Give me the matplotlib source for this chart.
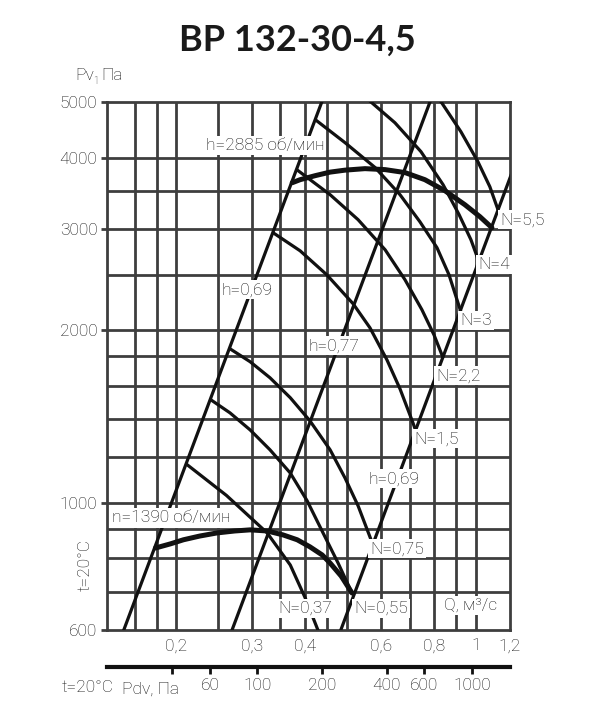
import numpy as np
import matplotlib
matplotlib.use('Agg')
import matplotlib.pyplot as plt
from matplotlib.ticker import NullLocator, NullFormatter

plt.rcParams['font.family'] = ['Roboto', 'DejaVu Sans']
plt.rcParams['font.weight'] = 'light'

# axes: flow Q (m3/s), pressure Pv (Pa), both log
q_ticks = [0.2, 0.3, 0.4, 0.6, 0.8, 1.0, 1.2]
q_labels = ['0,2', '0,3', '0,4', '0,6', '0,8', '1', '1,2']
p_ticks = [600, 1000, 2000, 3000, 4000, 5000]
p_labels = ['600', '1000', '2000', '3000', '4000', '5000']
q_grid = [0.16, 0.18, 0.2, 0.25, 0.3, 0.35, 0.4, 0.45, 0.5, 0.6, 0.7, 0.8, 0.9, 1.0]
p_grid = [700, 800, 900, 1000, 1200, 1400, 1600, 1800, 2000, 2500, 3000, 3500, 4000]

# dynamic pressure scale under the chart
pdv_ticks = [40, 60, 100, 200, 400, 600, 1000]
pdv_labels = ['', '60', '100', '200', '400', '600', '1000']
pdv_coef = 1045  # Pdv = coef * Q^2

# fan curves (thick)
q_2885 = [0.373, 0.389, 0.422, 0.457, 0.495, 0.551, 0.614, 0.683, 0.760, 0.846, 0.942, 1.021, 1.089]
p_2885 = [3616, 3660, 3720, 3773, 3803, 3826, 3811, 3766, 3660, 3502, 3310, 3155, 3018]
q_1390 = [0.179, 0.194, 0.208, 0.227, 0.249, 0.274, 0.2975, 0.326, 0.355, 0.383, 0.410, 0.438, 0.457, 0.485, 0.514]
p_1390 = [834, 848, 862, 875, 886, 893, 897, 893, 879, 862, 838, 811, 785, 745, 696]

# power curves (thin)
q_n037 = [0.211, 0.262, 0.326, 0.369, 0.400, 0.428, 0.438]
p_n037 = [1169, 1030, 886, 779, 682, 600, 576]
q_n055 = [0.241, 0.267, 0.2975, 0.331, 0.369, 0.404, 0.44, 0.477, 0.514]
p_n055 = [1512, 1435, 1340, 1237, 1127, 1008, 886, 785, 696]
q_n075 = [0.267, 0.2975, 0.331, 0.369, 0.410, 0.457, 0.495, 0.531, 0.572]
p_n075 = [1856, 1762, 1652, 1525, 1390, 1237, 1105, 988, 854]
q_n15 = [0.3365, 0.389, 0.449, 0.517, 0.566, 0.620, 0.665, 0.713, 0.725]
p_n15 = [2958, 2751, 2498, 2224, 2019, 1775, 1580, 1378, 1330]
q_n22 = [0.382, 0.457, 0.531, 0.614, 0.683, 0.748, 0.798, 0.838]
p_n22 = [3811, 3446, 3117, 2762, 2449, 2171, 1963, 1790]
q_n3 = [0.422, 0.495, 0.582, 0.665, 0.740, 0.811, 0.865, 0.922]
p_n3 = [4658, 4247, 3842, 3446, 3091, 2785, 2498, 2153]
q_n4 = [0.467, 0.554, 0.647, 0.744, 0.838, 0.913, 0.973, 1.016]
p_n4 = [5626, 5087, 4601, 4097, 3587, 3181, 2876, 2632]
q_n55 = [0.717, 0.828, 0.922, 1.010, 1.077, 1.125]
p_n55 = [5649, 5010, 4438, 3935, 3558, 3245]

# efficiency lines (end points)
q_eta_left = [0.151, 0.437]
p_eta_left = [600, 5000]
q_eta_mid = [0.270, 0.781]
p_eta_mid = [600, 5000]
q_eta_right = [0.484, 1.25]
p_eta_right = [600, 4000]

W, H = 594, 725
fig = plt.figure(figsize=(W / 100, H / 100), dpi=100)
ax = fig.add_axes([107 / W, 1 - 630 / H, 403 / W, 528 / H])
ax.set_xscale('log')
ax.set_yscale('log')
ax.set_xlim(0.138, 1.2)
ax.set_ylim(600, 5000)

grid_c = '#3e3e3e'
ink = '#111111'
for q in q_grid:
    ax.axvline(q, color=grid_c, lw=2.0, zorder=1)
for p in p_grid:
    ax.axhline(p, color=grid_c, lw=2.0, zorder=1)
for s in ax.spines.values():
    s.set_color(grid_c)
    s.set_linewidth(2.0)

for qq, pp in [(q_eta_left, p_eta_left), (q_eta_mid, p_eta_mid), (q_eta_right, p_eta_right)]:
    ax.plot(qq, pp, color=ink, lw=2.3, zorder=3)
for qq, pp in [(q_n037, p_n037), (q_n055, p_n055), (q_n075, p_n075), (q_n15, p_n15),
               (q_n22, p_n22), (q_n3, p_n3), (q_n4, p_n4), (q_n55, p_n55)]:
    ax.plot(qq, pp, color=ink, lw=2.3, zorder=3, solid_capstyle='butt')
ax.plot(q_2885, p_2885, color=ink, lw=3.6, zorder=4, solid_capstyle='round')
ax.plot(q_1390, p_1390, color=ink, lw=3.6, zorder=4, solid_capstyle='round')

box = dict(boxstyle='square,pad=0.12', fc='white', ec='none')
labels = [
    ('h=2885 об/мин', 0.322, 4197, 'center'),
    ('h=0,69', 0.293, 2353, 'center'),
    ('h=0,77', 0.467, 1878, 'center'),
    ('h=0,69', 0.644, 1101, 'center'),
    ('N=5,5', 1.137, 3117, 'left'),
    ('N=4', 1.101, 2601, 'center'),
    ('N=3', 1.0, 2077, 'center'),
    ('N=2,2', 0.908, 1665, 'center'),
    ('N=1,5', 0.807, 1293, 'center'),
    ('N=0,75', 0.654, 831, 'center'),
    ('N=0,37', 0.400, 655, 'center'),
    ('N=0,55', 0.600, 655, 'center'),
    ('Q, м³/с', 0.973, 663, 'center'),
    ('n=1390 об/мин', 0.1947, 941, 'center'),
]
for txt, x, y, ha in labels:
    ax.text(x, y, txt, ha=ha, va='center', fontsize=12.5, color=ink,
            bbox=box, zorder=6, clip_on=False)

ax.set_xticks(q_ticks, q_labels)
ax.set_yticks(p_ticks, p_labels)
ax.xaxis.set_minor_locator(NullLocator())
ax.yaxis.set_minor_locator(NullLocator())
ax.xaxis.set_minor_formatter(NullFormatter())
ax.yaxis.set_minor_formatter(NullFormatter())
ax.tick_params(axis='x', length=0, pad=6, labelsize=12.5, colors=ink)
ax.tick_params(axis='y', length=4, width=2.0, color=grid_c, pad=3, labelsize=12.5, labelcolor=ink)

sec = ax.secondary_xaxis(-0.07, functions=(lambda q: pdv_coef * np.asarray(q) ** 2,
                                            lambda p: np.sqrt(np.abs(p) / pdv_coef)))
sec.set_xticks(pdv_ticks, pdv_labels)
sec.xaxis.set_minor_locator(NullLocator())
sec.xaxis.set_minor_formatter(NullFormatter())
sec.spines['bottom'].set_linewidth(3)
sec.spines['bottom'].set_color(ink)
sec.tick_params(axis='x', direction='out', length=5, width=2, color=ink,
                pad=3, labelsize=12.5, labelcolor=ink)


def fx(px):
    return px / W


def fy(py):
    return 1 - py / H


fig.text(0.5, fy(40), 'ВР 132-30-4,5', ha='center', va='center', fontsize=26,
         fontweight='bold', family=['Lato', 'DejaVu Sans'], color='#1a1a1a')
fig.text(fx(75), fy(75), 'Pv', ha='left', va='center', fontsize=12.5, color=ink)
fig.text(fx(93), fy(81), '1', ha='left', va='center', fontsize=7, color=ink)
fig.text(fx(101), fy(75), 'Па', ha='left', va='center', fontsize=12.5, color=ink)
fig.text(fx(85), fy(565), 't=20°C', ha='center', va='center', rotation=90, fontsize=12.5, color=ink)
fig.text(fx(62), fy(688), 't=20°C', ha='left', va='center', fontsize=12.5, color=ink)
fig.text(fx(150), fy(689), 'Pdv, Па', ha='center', va='center', fontsize=12.5, color=ink)

fig.savefig('out.png', dpi=100, facecolor='white')
